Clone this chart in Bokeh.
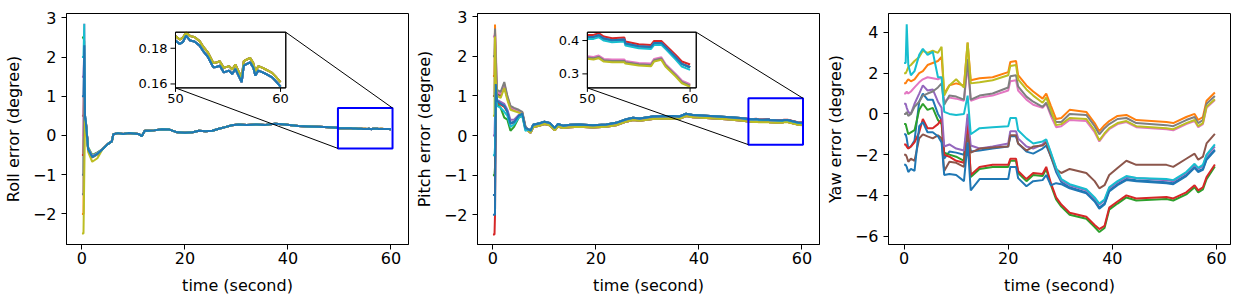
from bokeh.plotting import figure
from bokeh.models import Range1d, FixedTicker, Label, CustomJSTickFormatter
from bokeh.layouts import row
from bokeh.embed import file_html
from bokeh.resources import INLINE

FONT = "DejaVu Sans"
COLORS = ['#1f77b4', '#ff7f0e', '#2ca02c', '#d62728', '#9467bd', '#8c564b',
          '#e377c2', '#7f7f7f', '#bcbd22', '#17becf', '#1f77b4']

# ---------------- ROLL data ----------------
roll_head_t = [0, 0.3, 0.45, 0.6, 0.75, 1.2, 2.0, 3.0]
roll_heads = [
    [-1.0, -1.0, 2.3, 0.5, 0.35, -0.35, -0.55, -0.47],
    [-2.0, -2.0, 1.2, 0.45, 0.35, -0.36, -0.56, -0.48],
    [2.5, 2.5, 2.4, 0.5, 0.38, -0.3, -0.5, -0.43],
    [-0.5, -0.5, 1.6, 0.45, 0.35, -0.34, -0.53, -0.46],
    [1.5, 1.5, 2.2, 0.5, 0.36, -0.33, -0.52, -0.45],
    [0.5, 0.5, 2.0, 0.45, 0.35, -0.34, -0.54, -0.46],
    [0.0, 0.0, 2.85, 0.5, 0.36, -0.33, -0.53, -0.45],
    [-1.5, -1.5, 1.4, 0.45, 0.35, -0.36, -0.56, -0.48],
    [-2.5, -2.5, -1.0, 0.4, 0.3, -0.42, -0.67, -0.58],
    [2.0, 2.0, 2.85, 0.5, 0.36, -0.34, -0.54, -0.46],
    [1.0, 1.0, 2.3, 0.45, 0.35, -0.35, -0.55, -0.47],
]
roll_mid_t = [4.0, 5.0, 5.8, 6.1, 7.0, 8.0, 9.0, 10.0, 11.0, 11.6, 12.2, 13.0, 14.0, 15.5,
              17.0, 18.5, 20.0, 21.5, 22.7, 24.0, 25.3, 26.6, 28.0, 29.1, 30.4, 32.0, 34.0,
              35.6, 37.5, 39.4, 42.0, 44.0, 46.0, 48.0, 49.5]
roll_mid = [-0.35, -0.22, -0.15, 0.03, 0.06, 0.04, 0.06, 0.05, 0.04, -0.02, 0.12, 0.12, 0.13,
            0.16, 0.15, 0.08, 0.07, 0.08, 0.12, 0.11, 0.12, 0.17, 0.22, 0.26, 0.28, 0.27, 0.28,
            0.27, 0.30, 0.28, 0.24, 0.23, 0.22, 0.21, 0.195]
roll_late_t = [50.0, 50.4, 50.7, 51.0, 51.4, 51.8, 52.3, 52.6, 53.1, 53.6, 53.9, 54.2, 54.6,
               55.1, 55.4, 55.7, 56.0, 56.3, 56.5, 56.8, 57.1, 57.4, 57.6, 57.9, 58.3, 58.6,
               58.9, 59.2, 59.5, 60.0]
roll_late_lo = [0.1843, 0.1824, 0.1834, 0.1871, 0.1843, 0.1838, 0.1815, 0.1787, 0.175, 0.1693,
                0.1695, 0.1703, 0.1665, 0.1675, 0.1656, 0.1684, 0.1647, 0.161, 0.1703, 0.1712,
                0.1721, 0.1693, 0.1647, 0.1675, 0.1665, 0.1656, 0.1647, 0.1637, 0.1619, 0.1585]
roll_late_hi = [0.1868, 0.1849, 0.1859, 0.1888, 0.1868, 0.1863, 0.184, 0.1812, 0.1775, 0.1718,
                0.172, 0.1728, 0.169, 0.17, 0.1681, 0.1709, 0.1672, 0.1635, 0.1728, 0.1737,
                0.1746, 0.1718, 0.1672, 0.17, 0.169, 0.1681, 0.1672, 0.1662, 0.1644, 0.161]
roll_late_pick = ["lo", "hi", "lo", "lo", "lo", "hi", "lo", "hi", "hi", "lo", "lo"]

# ---------------- PITCH data ----------------
pitch_head_t = [0, 0.3, 0.4, 0.55, 0.8, 1.5, 2.2, 2.8, 3.4, 4.1, 5.0, 5.7, 6.3]
pitch_heads = [
    [-1.5, -1.5, -1.5, 1.3, 0.9, 0.82, 0.76, 0.62, 0.32, 0.35, 0.5, 0.55, 0.2],
    [1.5, 1.5, 2.8, 1.6, 1.1, 1.05, 1.3, 0.97, 0.72, 0.67, 0.63, 0.58, 0.22],
    [-1.0, -1.0, -0.8, 1.0, 0.8, 0.7, 0.45, 0.4, 0.12, 0.22, 0.45, 0.5, 0.15],
    [-2.5, -2.5, -2.0, 1.0, 0.85, 0.78, 0.72, 0.6, 0.3, 0.33, 0.48, 0.53, 0.18],
    [0.0, 0.0, 0.5, 1.2, 0.9, 0.85, 0.8, 0.65, 0.4, 0.4, 0.52, 0.56, 0.2],
    [1.0, 1.0, 2.3, 1.5, 1.05, 1.0, 1.25, 0.95, 0.7, 0.65, 0.62, 0.56, 0.2],
    [2.5, 2.5, 2.6, 2.2, 1.1, 1.05, 1.25, 0.95, 0.72, 0.66, 0.62, 0.58, 0.22],
    [2.0, 2.0, 2.7, 2.0, 1.15, 1.1, 1.35, 1.0, 0.75, 0.7, 0.65, 0.6, 0.24],
    [0.5, 0.5, 2.5, 1.4, 1.0, 0.95, 1.2, 0.9, 0.65, 0.62, 0.58, 0.54, 0.18],
    [-0.5, -0.5, -0.3, 1.1, 0.75, 0.7, 0.6, 0.5, 0.22, 0.28, 0.45, 0.5, 0.12],
    [-2.0, -2.0, -2.0, 1.3, 0.88, 0.8, 0.75, 0.6, 0.3, 0.34, 0.5, 0.55, 0.19],
]
pitch_mid_t = [7.0, 7.3, 7.8, 9.1, 10.0, 11.0, 12.0, 12.6, 13.6, 15.0, 16.8, 19.4, 22.0,
               23.9, 25.9, 27.2, 28.5, 31.0, 34.9, 36.2, 37.5, 38.8, 41.4, 45.3, 48.0]
pitch_mid_a = [0.15, 0.12, 0.27, 0.31, 0.35, 0.32, 0.19, 0.29, 0.25, 0.27, 0.28, 0.26, 0.28,
               0.32, 0.41, 0.45, 0.43, 0.48, 0.49, 0.48, 0.55, 0.52, 0.5, 0.47, 0.44]
pitch_mid_b = [0.1, 0.07, 0.21, 0.25, 0.29, 0.26, 0.13, 0.23, 0.19, 0.21, 0.22, 0.2, 0.22,
               0.26, 0.35, 0.39, 0.37, 0.42, 0.43, 0.42, 0.49, 0.46, 0.44, 0.41, 0.38]
pitch_late_t = [50.0, 50.6, 51.1, 51.6, 52.4, 53.6, 53.7, 55.0, 56.2, 56.5, 57.2, 57.6, 58.6,
                59.2, 60.0]
pitch_late = {
    "a_red": [0.417, 0.417, 0.422, 0.412, 0.407, 0.409, 0.397, 0.389, 0.387, 0.399, 0.399,
              0.387, 0.357, 0.337, 0.328],
    "a_mid": [0.411, 0.411, 0.416, 0.406, 0.401, 0.403, 0.391, 0.383, 0.381, 0.393, 0.393,
              0.381, 0.350, 0.330, 0.320],
    "a_cyan": [0.405, 0.405, 0.41, 0.4, 0.395, 0.397, 0.385, 0.377, 0.375, 0.387, 0.387,
               0.375, 0.343, 0.322, 0.312],
    "b_pink": [0.353, 0.351, 0.355, 0.345, 0.343, 0.343, 0.339, 0.333, 0.331, 0.345, 0.35,
               0.33, 0.3, 0.28, 0.269],
    "b_mid": [0.349, 0.347, 0.351, 0.341, 0.339, 0.339, 0.335, 0.329, 0.327, 0.341, 0.346,
              0.326, 0.296, 0.276, 0.265],
    "b_olive": [0.345, 0.343, 0.347, 0.337, 0.335, 0.335, 0.331, 0.325, 0.323, 0.337, 0.342,
                0.322, 0.292, 0.272, 0.261],
}
pitch_mid_pick = ["a", "b", "a", "a", "a", "b", "b", "b", "b", "a", "a"]
pitch_late_pick = ["a_mid", "b_mid", "a_mid", "a_red", "a_mid", "b_mid", "b_pink", "b_mid",
                   "b_olive", "a_cyan", "a_mid"]

# ---------------- YAW data ----------------
yaw_t = [0, 0.3, 0.5, 0.8, 1.3, 2.0, 2.9, 3.6, 4.5, 5.5, 6.5, 7.2, 7.7, 8.7, 10.0, 11.5, 12.2,
         12.8, 14.5, 17.0, 20.0, 20.4, 21.5, 21.9, 23.5, 24.8, 26.6, 27.3, 28.2, 29.2, 30.2,
         31.8, 35.0, 36.6, 37.5, 38.5, 39.4, 41.0, 42.7, 44.6, 50.4, 51.7, 54.2, 55.8, 56.5,
         57.4, 58.1, 59.7]
yaw_series = [
    [-1.0, -1.0, -1.2, -1.7, -1.6, -1.3, 0.6, 1.0, 0.7, 0.7, 0.0, -0.3, -2.2, -1.85, -1.9, -2.0,
     -0.5, -1.85, -1.8, -1.7, -1.6, -1.1, -1.1, -1.45, -1.85, -1.95, -1.7, -1.55, -2.1, -2.85,
     -3.35, -3.6, -3.85, -4.25, -4.6, -4.4, -3.75, -3.45, -3.2, -3.25, -3.35, -3.4, -3.0, -2.6,
     -2.8, -2.7, -2.2, -1.75],
    [1.5, 1.5, 1.6, 1.7, 1.6, 1.7, 2.0, 2.1, 2.4, 2.5, 2.6, 2.8, 1.0, 1.4, 1.5, 1.4, 3.5, 1.65,
     1.75, 1.8, 2.05, 2.55, 2.6, 1.9, 1.4, 1.1, 0.75, 1.0, 0.4, -0.25, -0.2, 0.2, 0.1, -0.45,
     -0.85, -0.55, -0.35, -0.1, -0.05, -0.3, -0.4, -0.45, -0.15, 0.0, -0.3, -0.15, 0.65, 1.05],
    [-0.5, -0.5, -0.7, -1.0, -0.9, -0.8, 0.2, 0.5, 0.2, 0.3, -0.3, -0.5, -1.9, -2.0, -2.1, -2.3,
     -0.2, -3.1, -2.7, -2.6, -2.6, -2.3, -2.3, -2.9, -3.3, -3.0, -3.05, -2.7, -3.5, -4.2, -4.55,
     -4.95, -5.15, -5.55, -5.8, -5.6, -4.7, -4.4, -4.1, -4.25, -4.18, -4.25, -3.95, -3.6, -3.85,
     -3.7, -3.2, -2.58],
    [-1.5, -1.5, -1.6, -1.7, -1.6, -1.4, -0.9, -0.25, -0.7, -0.7, -0.5, -0.25, -2.0, -2.1, -2.3,
     -2.4, -0.3, -3.0, -2.6, -2.5, -2.5, -2.2, -2.2, -2.8, -3.2, -2.9, -2.95, -2.6, -3.4, -4.1,
     -4.45, -4.85, -5.05, -5.45, -5.65, -5.5, -4.6, -4.3, -4.0, -4.15, -4.08, -4.15, -3.85, -3.5,
     -3.75, -3.6, -3.1, -2.48],
    [0.5, 0.5, 0.3, 0.1, 0.0, 0.5, 1.0, 1.4, 1.15, 1.2, 0.6, 0.3, -1.6, -1.5, -1.7, -1.8, 0.0,
     -1.55, -1.7, -1.6, -1.45, -0.85, -0.85, -1.2, -1.6, -1.7, -1.5, -1.3, -1.95, -2.7, -3.25,
     -3.5, -3.75, -4.15, -4.45, -4.25, -3.65, -3.35, -3.1, -3.15, -3.25, -3.3, -2.9, -2.5, -2.7,
     -2.55, -2.05, -1.6],
    [-2.0, -2.0, -2.1, -2.35, -2.2, -2.3, -1.2, -1.0, -1.1, -1.2, -1.05, -1.2, -2.8, -2.35, -2.4,
     -2.6, -1.0, -1.9, -1.7, -1.65, -1.6, -1.05, -1.05, -1.45, -1.8, -1.6, -1.55, -1.4, -2.1,
     -2.7, -2.9, -2.7, -2.9, -3.3, -3.65, -3.5, -3.0, -2.65, -2.3, -2.5, -2.5, -2.6, -2.2, -1.95,
     -2.25, -2.1, -1.45, -0.98],
    [1.0, 1.0, 1.1, 1.0, 1.1, 1.3, 1.55, 1.7, 1.8, 1.75, 1.7, 1.8, 0.6, 0.8, 0.75, 0.65, 2.4,
     0.65, 0.8, 0.9, 1.15, 1.6, 1.65, 1.15, 0.7, 0.45, 0.3, 0.5, -0.1, -0.65, -0.6, -0.3, -0.35,
     -0.9, -1.35, -1.0, -0.75, -0.5, -0.4, -0.65, -0.75, -0.8, -0.5, -0.35, -0.65, -0.5, 0.3,
     0.68],
    [0.0, 0.0, 0.1, -0.1, 0.0, 0.35, 0.6, 0.9, 1.0, 1.1, 1.3, 1.5, 0.45, 0.9, 0.85, 0.7, 2.7,
     0.7, 0.9, 1.0, 1.3, 1.85, 1.9, 1.35, 0.85, 0.6, 0.35, 0.55, 0.0, -0.4, -0.4, 0.0, -0.05,
     -0.6, -1.0, -0.7, -0.5, -0.25, -0.2, -0.45, -0.55, -0.6, -0.3, -0.15, -0.45, -0.3, 0.5,
     0.88],
    [2.0, 2.0, 2.1, 2.3, 2.4, 2.6, 2.8, 3.1, 3.0, 3.1, 3.0, 3.3, 0.9, 1.4, 1.7, 1.3, 3.5, 1.5,
     1.55, 1.65, 1.9, 2.35, 2.4, 1.7, 1.2, 0.9, 0.55, 0.8, 0.2, -0.55, -0.5, -0.2, -0.25, -0.8,
     -1.3, -0.95, -0.7, -0.45, -0.35, -0.6, -0.7, -0.75, -0.45, -0.3, -0.6, -0.45, 0.35, 0.72],
    [2.5, 2.5, 4.4, 2.4, 1.9, 2.1, 2.9, 3.2, 2.9, 3.05, 1.8, 1.8, 0.1, 0.0, -0.05, 0.0, 0.9,
     -1.0, -0.7, -0.65, -0.6, -0.2, -0.2, -0.8, -1.2, -1.45, -1.35, -1.25, -1.9, -2.65, -3.2,
     -3.45, -3.7, -4.1, -4.4, -4.2, -3.6, -3.3, -3.05, -3.15, -3.2, -3.25, -2.85, -2.45, -2.65,
     -2.5, -2.0, -1.5],
    [-2.5, -2.5, -2.6, -2.85, -2.7, -2.8, -0.6, -0.4, -0.9, -0.9, -1.1, -1.4, -3.0, -2.95, -3.0,
     -3.3, -1.4, -3.75, -3.2, -3.2, -3.2, -2.6, -2.6, -3.15, -3.55, -3.3, -3.25, -3.0, -3.5,
     -3.4, -3.45, -3.65, -3.9, -4.3, -4.65, -4.45, -3.8, -3.5, -3.25, -3.3, -3.4, -3.45, -3.05,
     -2.65, -2.85, -2.75, -2.25, -1.8],
]

# ticks / labels
time_ticks = [0, 20, 40, 60]
roll_ticks = [-2, -1, 0, 1, 2, 3]
pitch_ticks = [-2, -1, 0, 1, 2, 3]
yaw_ticks = [-6, -4, -2, 0, 2, 4]

# inset settings (limits, tick values, zoom box)
roll_inset_xlim = (50, 60.5)
roll_inset_ylim = (0.1578, 0.189)
roll_inset_xticks = [50, 60]
roll_inset_yticks = [0.16, 0.18]
roll_zoom_box = (49.7, 60.3, -0.33, 0.70)
pitch_inset_xlim = (50, 60.6)
pitch_inset_ylim = (0.258, 0.425)
pitch_inset_xticks = [50, 60]
pitch_inset_yticks = [0.3, 0.4]
pitch_zoom_box = (49.6, 60.2, -0.23, 0.94)

FW, FH = 342, 231
MINUS_FMT = "return (tick < 0 ? '\u2212' : '') + Math.abs(tick).toString();"


def make_fig(xlim, ylim, yticks, ylabel, right_border):
    p = figure(frame_width=FW, frame_height=FH, x_range=Range1d(*xlim), y_range=Range1d(*ylim),
               output_backend="svg", toolbar_location=None,
               min_border_left=60, min_border_right=right_border, min_border_top=13,
               min_border_bottom=50, background_fill_color="white", border_fill_color="white")
    p.xgrid.visible = False
    p.ygrid.visible = False
    p.outline_line_color = "black"
    p.outline_line_width = 1
    p.outline_line_alpha = 1
    for ax in (p.xaxis[0], p.yaxis[0]):
        ax.major_tick_out = 5
        ax.major_tick_in = 0
        ax.minor_tick_out = 0
        ax.minor_tick_in = 0
        ax.major_tick_line_color = "black"
        ax.axis_line_color = "black"
        ax.major_label_text_font = FONT
        ax.major_label_text_font_size = "16px"
        ax.major_label_text_color = "black"
        ax.axis_label_text_font = FONT
        ax.axis_label_text_font_size = "16px"
        ax.axis_label_text_font_style = "normal"
        ax.axis_label_text_color = "black"
        ax.formatter = CustomJSTickFormatter(code=MINUS_FMT)
    p.xaxis.ticker = FixedTicker(ticks=time_ticks)
    p.yaxis.ticker = FixedTicker(ticks=yticks)
    p.xaxis.axis_label = "time (second)"
    p.yaxis.axis_label = ylabel
    p.xaxis.major_label_standoff = 2
    p.xaxis.axis_label_standoff = 9
    p.yaxis.major_label_standoff = 5
    p.yaxis.axis_label_standoff = 7
    return p


def add_inset(p, name, frac_x, frac_y, xlim, ylim, xticks, yticks, zoom_box, lines):
    mx0, mx1 = p.x_range.start, p.x_range.end
    my0, my1 = p.y_range.start, p.y_range.end
    sx = (xlim[1] - xlim[0]) / (frac_x[1] - frac_x[0])
    ix0 = xlim[0] - frac_x[0] * sx
    sy = (ylim[1] - ylim[0]) / (frac_y[1] - frac_y[0])
    iy0 = ylim[0] - frac_y[0] * sy
    xn, yn = name + "_x", name + "_y"
    p.extra_x_ranges = {xn: Range1d(ix0, ix0 + sx)}
    p.extra_y_ranges = {yn: Range1d(iy0, iy0 + sy)}

    def to_mx(v):
        return mx0 + (v - ix0) / sx * (mx1 - mx0)

    def to_my(v):
        return my0 + (v - iy0) / sy * (my1 - my0)

    l, r, b, t = zoom_box
    p.quad(left=[l], right=[r], bottom=[b], top=[t], fill_color=None,
           line_color="blue", line_width=2)
    p.segment(x0=[to_mx(xlim[1]), to_mx(xlim[0])], y0=[to_my(ylim[1]), to_my(ylim[0])],
              x1=[r, l], y1=[t, b], line_color="black", line_width=1)
    p.quad(left=[xlim[0]], right=[xlim[1]], bottom=[ylim[0]], top=[ylim[1]],
           fill_color="white", line_color="black", line_width=1,
           x_range_name=xn, y_range_name=yn)
    for xs, ys, c in lines:
        p.line(xs, ys, line_color=c, line_width=2, x_range_name=xn, y_range_name=yn)
    p.quad(left=[xlim[0]], right=[xlim[1]], bottom=[ylim[0]], top=[ylim[1]],
           fill_color=None, line_color="black", line_width=1,
           x_range_name=xn, y_range_name=yn)
    dx = 5 * sx / FW
    dy = 4 * sy / FH
    p.segment(x0=[xlim[0] - dx] * len(yticks), y0=yticks, x1=[xlim[0]] * len(yticks),
              y1=yticks, line_color="black", line_width=1, x_range_name=xn, y_range_name=yn)
    p.segment(x0=xticks, y0=[ylim[0]] * len(xticks), x1=xticks, y1=[ylim[0] - dy] * len(xticks),
              line_color="black", line_width=1, x_range_name=xn, y_range_name=yn)
    for v in yticks:
        p.add_layout(Label(x=xlim[0], y=v, text=("%g" % v), x_offset=-8,
                           text_align="right", text_baseline="middle",
                           text_font=FONT, text_font_size="13px", text_color="black",
                           x_range_name=xn, y_range_name=yn))
    for v in xticks:
        p.add_layout(Label(x=v, y=ylim[0], text=("%g" % v), y_offset=-6,
                           text_align="center", text_baseline="top",
                           text_font=FONT, text_font_size="13px", text_color="black",
                           x_range_name=xn, y_range_name=yn))


# ---------------- ROLL figure ----------------
p1 = make_fig((-3.0, 63.4), (-2.78, 3.11), roll_ticks, "Roll error (degree)", 3)
roll_t = roll_head_t + roll_mid_t + roll_late_t
roll_inset_lines = []
for i, c in enumerate(COLORS):
    late = roll_late_hi if roll_late_pick[i] == "hi" else roll_late_lo
    p1.line(roll_t, roll_heads[i] + roll_mid + late, line_color=c, line_width=2)
    roll_inset_lines.append((roll_late_t, late, c))
add_inset(p1, "rin", (0.3187, 0.6412), (0.678, 0.919), roll_inset_xlim, roll_inset_ylim,
          roll_inset_xticks, roll_inset_yticks, roll_zoom_box, roll_inset_lines)

# ---------------- PITCH figure ----------------
p2 = make_fig((-3.0, 63.4), (-2.75, 3.08), pitch_ticks, "Pitch error (degree)", 3)
pitch_t = pitch_head_t + pitch_mid_t + pitch_late_t
pitch_inset_lines = []
for i, c in enumerate(COLORS):
    mid = pitch_mid_a if pitch_mid_pick[i] == "a" else pitch_mid_b
    late = pitch_late[pitch_late_pick[i]]
    p2.line(pitch_t, pitch_heads[i] + mid + late, line_color=c, line_width=2)
    pitch_inset_lines.append((pitch_late_t, late, c))
add_inset(p2, "pin", (0.3213, 0.6396), (0.678, 0.919), pitch_inset_xlim, pitch_inset_ylim,
          pitch_inset_xticks, pitch_inset_yticks, pitch_zoom_box, pitch_inset_lines)

# ---------------- YAW figure ----------------
p3 = make_fig((-3.0, 62.7), (-6.41, 4.93), yaw_ticks, "Yaw error (degree)", 4)
for i, c in enumerate(COLORS):
    p3.line(yaw_t, yaw_series[i], line_color=c, line_width=2)

layout = row(p1, p2, p3, spacing=0)
open("out.html", "w").write(file_html(layout, INLINE))
